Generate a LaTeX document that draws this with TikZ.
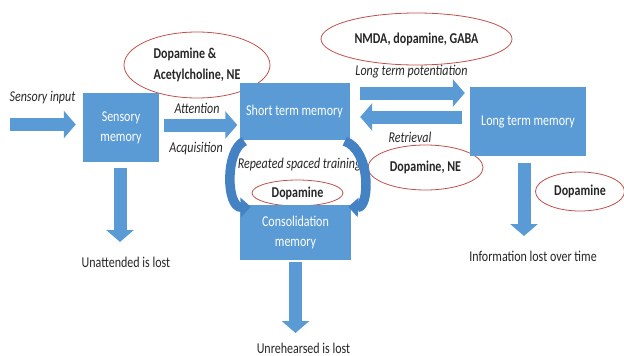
\documentclass[tikz,border=0pt]{standalone}
\usepackage{fontspec}
\setmainfont{Carlito}[FakeStretch=0.8]
\usetikzlibrary{shapes.geometric,arrows.meta}
\definecolor{boxblue}{HTML}{5B9BD5}
\definecolor{curveblue}{HTML}{4482C4}
\definecolor{drugred}{HTML}{C0504D}
\definecolor{ink}{HTML}{262626}
\begin{document}
\begin{tikzpicture}[x=1pt, y=-1pt, font=\fontsize{15}{17}\selectfont, text=ink,
    box/.style={fill=boxblue, text=white, align=center, inner sep=0pt, font=\fontsize{15}{20}\selectfont},
    drug/.style={ellipse, draw=drugred, line width=0.8pt, inner sep=0pt, align=left, font=\fontsize{15}{21}\selectfont\bfseries},
    note/.style={font=\fontsize{15}{17}\selectfont\itshape},
    blockarrow/.style={boxblue, line width=13pt, -{Triangle[width=27pt, length=12pt]}},
    curvearrow/.style={curveblue, line width=9.5pt, -{Triangle[width=19pt, length=10pt]}}]
    \useasboundingbox (0,0) rectangle (624,356);

    % transmitters
    \node[drug, minimum width=146pt, minimum height=66pt] (ach) at (197,65) {Dopamine \&\\Acetylcholine, NE};
    \node[drug, minimum width=191pt, minimum height=52pt] (nmda) at (416.5,39) {NMDA, dopamine, GABA};
    \node[drug, minimum width=115pt, minimum height=45pt] (dane) at (425.5,167.5) {Dopamine, NE};
    \node[drug, minimum width=89pt, minimum height=39pt] (dalt) at (580,191.5) {Dopamine};
    \node[drug, minimum width=91pt, minimum height=26pt] (dacons) at (297.5,193) {Dopamine};

    % memory stores
    \node[box, minimum width=76pt, minimum height=69pt] (sm) at (121,127.5) {Sensory\\memory};
    \node[box, minimum width=110pt, minimum height=57pt] (stm) at (294.5,111.5) {Short term memory};
    \node[box, minimum width=116pt, minimum height=69pt] (ltm) at (528,121.5) {Long term memory};
    \node[box, minimum width=111pt, minimum height=55pt] (cons) at (295.5,232.5) {Consolidation\\memory};

    % labels
    \node[note] (input) at (42.5,98) {Sensory input};
    \node[note] (att) at (197,108) {Attention};
    \node[note] (acq) at (196,149) {Acquisition};
    \node[note] (ltp) at (411.5,72) {Long term potentiation};
    \node[note] (ret) at (410,137) {Retrieval};
    \node[note] (rst) at (299.5,165) {Repeated spaced training};
    \node (unatt) at (126,262) {Unattended is lost};
    \node (unreh) at (303.5,348) {Unrehearsed is lost};
    \node (info) at (533,256) {Information lost over time};

    \coordinate (in) at (10,124.5);
    \coordinate (lost1) at (120,242);
    \coordinate (lost2) at (295.5,333);
    \coordinate (lost3) at (524,236);

    % arrows
    \draw[blockarrow] (in) -- ([xshift=-7pt,yshift=3pt]sm.west);
    \draw[blockarrow] ([xshift=5pt,yshift=2.5pt]sm.east) -- ([xshift=-2pt,yshift=-13.5pt]stm.west);
    \draw[blockarrow] ([xshift=10.5pt,yshift=18.5pt]stm.east) -- ([xshift=-5pt,yshift=28.5pt]ltm.west);
    \draw[blockarrow] ([xshift=-8pt,yshift=4.5pt]ltm.west) -- ([xshift=10.5pt,yshift=-5.5pt]stm.east);
    \draw[blockarrow] ([xshift=-1pt,yshift=-6pt]sm.south) -- (lost1);
    \draw[blockarrow] ([yshift=-2pt]cons.south) -- (lost2);
    \draw[blockarrow] ([xshift=-4pt,yshift=-7pt]ltm.south) -- (lost3);
    \draw[curvearrow] ([xshift=5pt,yshift=-1pt]stm.south west) .. controls (225,150) and (226,208) .. ([xshift=11pt,yshift=-2pt]cons.north west);
    \draw[curvearrow] ([xshift=-5pt,yshift=-1pt]stm.south east) .. controls (371,150) and (370,208) .. ([xshift=-3pt,yshift=-2pt]cons.north east);
\end{tikzpicture}
\end{document}
